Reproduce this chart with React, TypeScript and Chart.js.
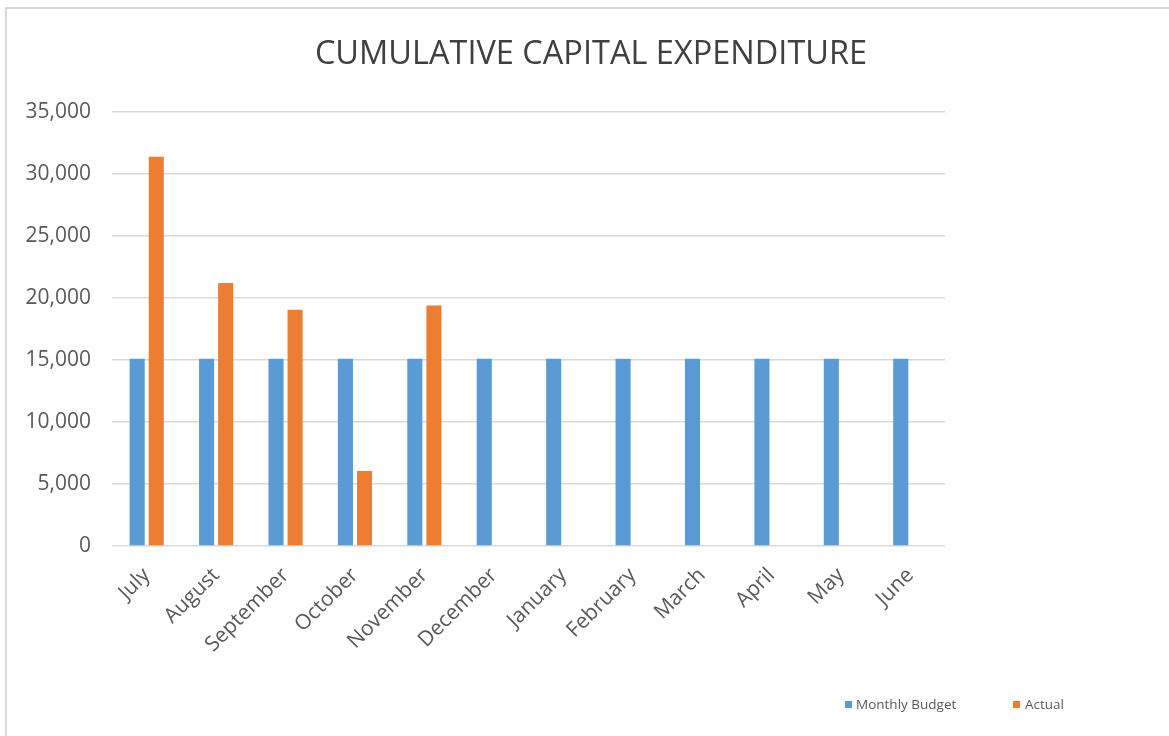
import React, { useEffect, useRef } from "react";
import { Chart, registerables } from "chart.js";

Chart.register(...registerables);

const months = ["July", "August", "September", "October", "November", "December", "January", "February", "March", "April", "May", "June"];
const monthlyBudget = [15100, 15100, 15100, 15100, 15100, 15100, 15100, 15100, 15100, 15100, 15100, 15100];
const actual = [31400, 21200, 19050, 6050, 19400, null, null, null, null, null, null, null];
const titleText = "CUMULATIVE CAPITAL EXPENDITURE";
const seriesNames = ["Monthly Budget", "Actual"];
const seriesColors = ["#5B9BD5", "#ED7D31"];

const FONT = "'Open Sans', 'DejaVu Sans', sans-serif";

export default function App() {
  const ref = useRef<HTMLCanvasElement | null>(null);

  useEffect(() => {
    if (!ref.current) return;
    const chart = new Chart(ref.current, {
      type: "bar",
      data: {
        labels: months,
        datasets: [
          {
            label: seriesNames[0],
            data: monthlyBudget,
            backgroundColor: seriesColors[0],
            categoryPercentage: 0.55,
            barPercentage: 0.79,
          },
          {
            label: seriesNames[1],
            data: actual as any,
            backgroundColor: seriesColors[1],
            categoryPercentage: 0.55,
            barPercentage: 0.79,
          },
        ],
      },
      options: {
        responsive: false,
        animation: false,
        devicePixelRatio: 1,
        layout: { padding: { left: 0, right: 224, top: 112, bottom: 0 } },
        plugins: {
          legend: { display: false },
          title: { display: false },
          tooltip: { enabled: false },
        },
        scales: {
          x: {
            grid: { display: false, drawTicks: false },
            border: { display: false },
            ticks: {
              autoSkip: false,
              maxRotation: 45,
              minRotation: 45,
              padding: 17,
              color: "#595959",
              font: { family: FONT, size: 21 },
            },
            afterFit: (s: any) => {
              s.height = 190;
            },
          },
          y: {
            min: 0,
            max: 35000,
            ticks: {
              stepSize: 5000,
              padding: 21,
              color: "#595959",
              font: { family: FONT, size: 21 },
              callback: (v: any) => Number(v).toLocaleString("en-US"),
            },
            grid: { color: "#D9D9D9", lineWidth: 1.5, drawTicks: false },
            border: { display: false },
            afterFit: (s: any) => {
              s.width = 112;
            },
          },
        },
      },
    });
    return () => chart.destroy();
  }, []);

  return (
    <div style={{ position: "absolute", left: 0, top: 0, width: 1169, height: 736, overflow: "hidden", background: "#fff" }}>
      <div
        style={{
          position: "absolute",
          left: 5,
          top: 7,
          width: 1200,
          height: 800,
          border: "2px solid #D9D9D9",
          boxSizing: "border-box",
        }}
      />
      <canvas ref={ref} width={1169} height={736} style={{ position: "absolute", left: 0, top: 0 }} />
      <div
        style={{
          position: "absolute",
          left: 0,
          top: 30,
          width: 1182,
          textAlign: "center",
          fontFamily: FONT,
          fontSize: 32.5,
          color: "#404040",
          lineHeight: "44px",
        }}
      >
        {titleText}
      </div>
      <div style={{ position: "absolute", left: 845, top: 695, fontFamily: FONT, fontSize: 13.5, color: "#595959", display: "flex", alignItems: "center", lineHeight: "18px" }}>
        <span style={{ display: "inline-block", width: 7, height: 7, background: seriesColors[0], marginRight: 4 }} />
        <span style={{ width: 157 }}>{seriesNames[0]}</span>
        <span style={{ display: "inline-block", width: 7, height: 7, background: seriesColors[1], marginRight: 5 }} />
        <span>{seriesNames[1]}</span>
      </div>
    </div>
  );
}
